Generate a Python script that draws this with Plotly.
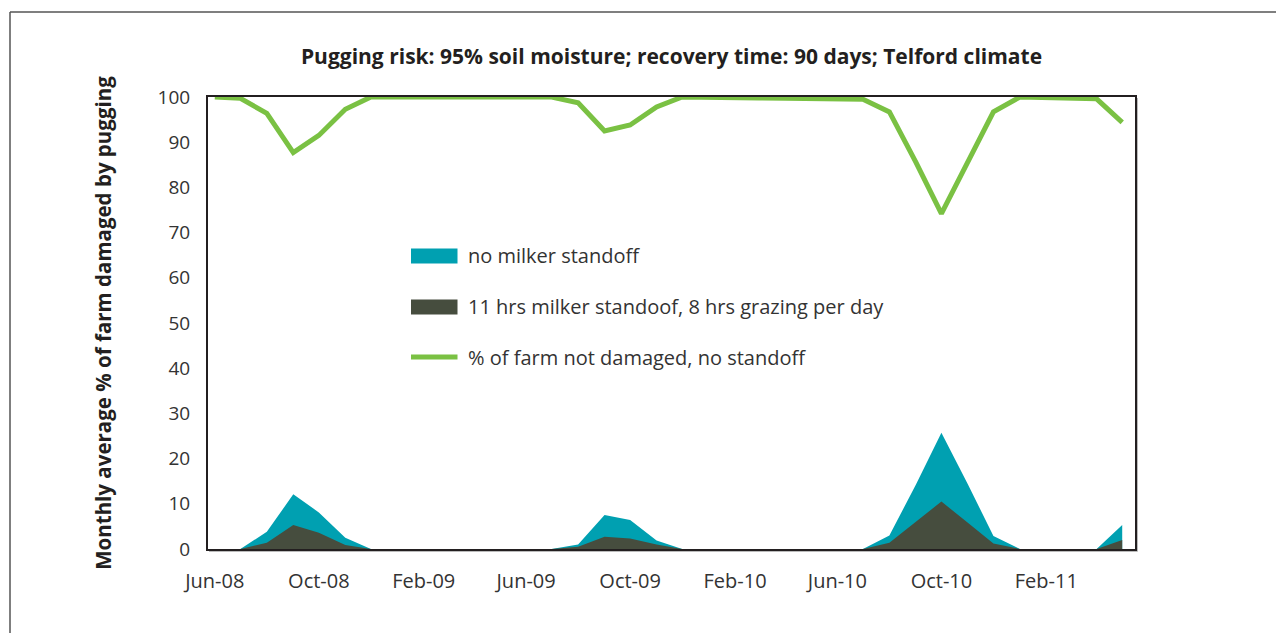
import plotly.graph_objects as go

months = [
    "2008-06-01", "2008-07-01", "2008-08-01", "2008-09-01", "2008-10-01", "2008-11-01",
    "2008-12-01", "2009-01-01", "2009-02-01", "2009-03-01", "2009-04-01", "2009-05-01",
    "2009-06-01", "2009-07-01", "2009-08-01", "2009-09-01", "2009-10-01", "2009-11-01",
    "2009-12-01", "2010-01-01", "2010-02-01", "2010-03-01", "2010-04-01", "2010-05-01",
    "2010-06-01", "2010-07-01", "2010-08-01", "2010-09-01", "2010-10-01", "2010-11-01",
    "2010-12-01", "2011-01-01", "2011-02-01", "2011-03-01", "2011-04-01", "2011-05-01",
]

no_standoff = [
    0, 0, 3.8, 12.1, 8.1, 2.5,
    0, 0, 0, 0, 0, 0,
    0, 0, 1.0, 7.5, 6.4, 1.9,
    0, 0, 0, 0, 0, 0,
    0, 0, 3.0, 14.2, 25.7, 14.3,
    2.9, 0, 0, 0, 0, 5.3,
]

standoff_11h = [
    0, 0, 1.4, 5.3, 3.6, 0.9,
    0, 0, 0, 0, 0, 0,
    0, 0, 0.5, 2.7, 2.3, 1.0,
    0, 0, 0, 0, 0, 0,
    0, 0, 1.4, 6.0, 10.5, 5.8,
    1.2, 0, 0, 0, 0, 2.0,
]

not_damaged = [
    100, 99.7, 96.4, 87.7, 91.5, 97.3,
    100, 100, 100, 100, 100, 100,
    100, 100, 98.7, 92.5, 93.8, 97.8,
    100, 100, 99.9, 99.8, 99.7, 99.6,
    99.6, 99.5, 96.7, 85.6, 74.2, 85.6,
    96.7, 100, 99.9, 99.8, 99.6, 94.4,
]

names = [
    "no milker standoff",
    "11 hrs milker standoof, 8 hrs grazing per day",
    "% of farm not damaged, no standoff",
]

title_text = "Pugging risk: 95% soil moisture; recovery time: 90 days; Telford climate"
y_title = "Monthly average % of farm damaged by pugging"

TEAL = "#00A0B1"
DARK = "#464D3E"
GREEN = "#7AC143"
TXT = "#333333"
FONT = "Open Sans"

fig = go.Figure()
fig.add_trace(go.Scatter(
    x=months, y=no_standoff, name=names[0], mode="lines",
    line=dict(width=0, color=TEAL), fill="tozeroy", fillcolor=TEAL,
    showlegend=False, hoverinfo="x+y",
))
fig.add_trace(go.Scatter(
    x=months, y=standoff_11h, name=names[1], mode="lines",
    line=dict(width=0, color=DARK), fill="tozeroy", fillcolor=DARK,
    showlegend=False, hoverinfo="x+y",
))
fig.add_trace(go.Scatter(
    x=months, y=not_damaged, name=names[2], mode="lines",
    line=dict(width=5, color=GREEN), cliponaxis=False,
    showlegend=False, hoverinfo="x+y",
))

# page body has an 8px margin: figure is laid out in window coords minus 8
OFF = 8
W, H = 1284 - OFF, 641 - 2 * OFF
L, T = 208 - OFF, 97 - OFF
pw, ph = 927, 452
R = W - L - pw
B = H - T - ph


def px(xw):
    return (xw - OFF - L) / pw


def py(yw):
    return (T + ph - (yw - OFF)) / ph


shapes = [
    dict(type="line", xref="paper", yref="paper",
         x0=px(10), y0=py(12), x1=px(1290), y1=py(12),
         line=dict(color="#555555", width=1.5)),
    dict(type="line", xref="paper", yref="paper",
         x0=px(10), y0=py(12), x1=px(10), y1=py(660),
         line=dict(color="#555555", width=1.5)),
    # faint shadow along the right and bottom of the plot frame
    dict(type="line", xref="paper", yref="paper",
         x0=px(1137.5), y0=py(98), x1=px(1137.5), y1=py(551.5),
         line=dict(color="#bbbbbb", width=1)),
    dict(type="line", xref="paper", yref="paper",
         x0=px(209), y0=py(551.5), x1=px(1137.5), y1=py(551.5),
         line=dict(color="#bbbbbb", width=1)),
    # legend swatches
    dict(type="rect", xref="paper", yref="paper",
         x0=px(411), x1=px(457.5), y0=py(248.5), y1=py(263.5),
         fillcolor=TEAL, line=dict(width=0)),
    dict(type="rect", xref="paper", yref="paper",
         x0=px(411), x1=px(457.5), y0=py(299.5), y1=py(314.5),
         fillcolor=DARK, line=dict(width=0)),
    dict(type="line", xref="paper", yref="paper",
         x0=px(411), x1=px(457.5), y0=py(357), y1=py(357),
         line=dict(color=GREEN, width=5)),
]

annotations = []
for name, yc in zip(names, [255, 306, 357]):
    annotations.append(dict(
        text=name, xref="paper", yref="paper", x=px(466), y=py(yc),
        xanchor="left", yanchor="middle", showarrow=False,
        font=dict(family=FONT, size=20, color=TXT),
    ))

fig.update_layout(
    width=W, height=H,
    margin=dict(l=L, r=R, t=T, b=B),
    paper_bgcolor="white", plot_bgcolor="white",
    font=dict(family=FONT, size=18, color=TXT),
    title=dict(
        text="<b>" + title_text + "</b>",
        x=0.5, xref="paper", xanchor="center",
        y=1 - (57 - OFF) / H, yref="container", yanchor="middle",
        font=dict(family=FONT, size=21, color="#231f20"),
    ),
    showlegend=False,
    xaxis=dict(
        type="date",
        range=["2008-05-24", "2011-05-16"],
        tick0="2008-06-01", dtick="M4", tickformat="%b-%y",
        showgrid=False, zeroline=False,
        showline=True, linecolor="#231f20", linewidth=2, mirror=True,
        ticks="", ticklabelstandoff=13,
        tickfont=dict(family=FONT, size=20, color=TXT),
    ),
    yaxis=dict(
        range=[0, 100], tick0=0, dtick=10,
        showgrid=False, zeroline=False,
        showline=True, linecolor="#231f20", linewidth=2, mirror=True,
        ticks="", ticklabelstandoff=12,
        tickfont=dict(family=FONT, size=19, color=TXT),
        title=dict(text="<b>" + y_title + "</b>", standoff=40,
                   font=dict(family=FONT, size=20.5, color="#231f20")),
    ),
    shapes=shapes,
    annotations=annotations,
)

fig.write_html("out.html")
